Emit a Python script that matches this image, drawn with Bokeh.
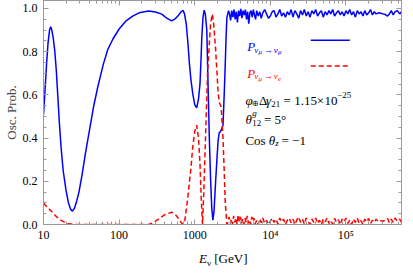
from bokeh.plotting import figure
from bokeh.models import FixedTicker, LinearAxis, LogAxis, Range1d, Label, Arrow, Div
from bokeh.layouts import column
from bokeh.embed import file_html
from bokeh.resources import INLINE

# ---------------- data ----------------
# P(nu_mu -> nu_mu): log10(E/GeV), probability
mumu_logE = [1.000, 1.020, 1.040, 1.060, 1.080, 1.095, 1.110, 1.130, 1.150, 1.170,
             1.190, 1.210, 1.232, 1.260, 1.297, 1.330, 1.360, 1.383, 1.410, 1.440,
             1.469, 1.510, 1.555, 1.610, 1.662, 1.720, 1.790, 1.850, 1.920, 2.000,
             2.093, 2.180, 2.264, 2.390, 2.480, 2.565, 2.630, 2.694, 2.740, 2.780,
             2.820, 2.845, 2.865, 2.888, 2.910, 2.930, 2.950, 2.974, 3.000, 3.026,
             3.050, 3.070, 3.085, 3.094, 3.110, 3.125, 3.140, 3.160, 3.180, 3.195,
             3.210, 3.225, 3.240, 3.255, 3.275, 3.295, 3.310, 3.325, 3.340, 3.355,
             3.374, 3.390, 3.404, 3.416, 3.426, 3.448,
             3.460, 3.475, 3.490, 3.505, 3.520, 3.535, 3.550, 3.565, 3.580, 3.595,
             3.610, 3.625, 3.640, 3.655, 3.670, 3.685, 3.700, 3.715, 3.730, 3.745,
             3.760, 3.775, 3.790, 3.805, 3.820, 3.840, 3.860, 3.880, 3.900, 3.925,
             3.950, 3.975, 4.000, 4.025, 4.050, 4.075, 4.100, 4.125, 4.150, 4.175,
             4.200, 4.225, 4.250, 4.275, 4.300, 4.325, 4.350, 4.375, 4.400, 4.425,
             4.450, 4.475, 4.500, 4.525, 4.550, 4.575, 4.600, 4.625, 4.650, 4.675,
             4.700, 4.725, 4.750, 4.775, 4.800, 4.825, 4.850, 4.875, 4.900, 4.925,
             4.950, 4.975, 5.000, 5.025, 5.050, 5.075, 5.100, 5.125, 5.150, 5.175,
             5.200, 5.225, 5.250, 5.275, 5.300, 5.325, 5.350, 5.375, 5.400, 5.430,
             5.460, 5.490, 5.520, 5.550, 5.575, 5.600, 5.625, 5.650, 5.680, 5.710,
             5.735]
mumu_P = [0.510, 0.620, 0.740, 0.840, 0.900, 0.916, 0.900, 0.860, 0.800, 0.710,
          0.590, 0.470, 0.360, 0.250, 0.160, 0.100, 0.070, 0.062, 0.075, 0.110,
          0.150, 0.230, 0.330, 0.440, 0.545, 0.640, 0.740, 0.810, 0.860, 0.905,
          0.943, 0.965, 0.980, 0.988, 0.984, 0.974, 0.955, 0.943, 0.952, 0.966,
          0.985, 0.992, 0.975, 0.928, 0.840, 0.744, 0.670, 0.606, 0.555, 0.540,
          0.580, 0.652, 0.780, 0.867, 0.960, 0.992, 0.975, 0.900, 0.590, 0.380,
          0.210, 0.080, 0.020, 0.060, 0.190, 0.310, 0.390, 0.425, 0.430, 0.440,
          0.460, 0.600, 0.744, 0.880, 0.959, 0.990,
          0.975, 0.945, 0.990, 0.960, 0.995, 0.950, 0.985, 0.935, 0.990, 0.965,
          0.998, 0.955, 0.990, 0.970, 0.995, 0.950, 0.985, 0.930, 0.980, 0.990,
          0.960, 0.995, 0.970, 0.950, 0.990, 0.965, 0.985, 0.955, 0.980, 0.995,
          0.975, 0.955, 0.965, 0.985, 0.990, 0.960, 0.975, 0.995, 0.965, 0.980,
          0.960, 0.985, 0.970, 0.995, 0.960, 0.990, 0.975, 0.955, 0.990, 0.970,
          0.995, 0.965, 0.985, 0.960, 0.990, 0.975, 0.995, 0.965, 0.980, 0.990,
          0.960, 0.985, 0.970, 0.990, 0.975, 0.995, 0.965, 0.980, 0.990, 0.970,
          0.985, 0.965, 0.990, 0.975, 0.995, 0.970, 0.985, 0.960, 0.990, 0.975,
          0.985, 0.965, 0.990, 0.970, 0.980, 0.995, 0.970, 0.985, 0.975, 0.980,
          0.978, 0.975, 0.972, 0.965, 0.975, 0.990, 0.970, 0.985, 0.990, 0.975,
          0.985]

# P(nu_mu -> nu_e): log10(E/GeV), probability
mue_logE = [1.000, 1.050, 1.103, 1.160, 1.210, 1.270, 1.320, 1.380, 1.450, 2.390,
            2.450, 2.520, 2.600, 2.694, 2.740, 2.780, 2.815, 2.845, 2.870, 2.910,
            2.950, 2.974, 3.000, 3.026, 3.050, 3.070, 3.085, 3.103, 3.120, 3.146,
            3.170, 3.190, 3.210, 3.232, 3.250, 3.275, 3.295, 3.310, 3.330, 3.350,
            3.374, 3.390, 3.404, 3.426,
            3.440, 3.455, 3.470, 3.485, 3.500, 3.515, 3.530, 3.545, 3.560, 3.575,
            3.590, 3.605, 3.620, 3.635, 3.650, 3.665, 3.680, 3.695, 3.710, 3.725,
            3.740, 3.755, 3.770, 3.785, 3.800, 3.820, 3.840, 3.860, 3.880, 3.900,
            3.925, 3.950, 3.975, 4.000, 4.025, 4.050, 4.075, 4.100, 4.125, 4.150,
            4.175, 4.200, 4.225, 4.250, 4.275, 4.300, 4.325, 4.350, 4.375, 4.400,
            4.425, 4.450, 4.475, 4.500, 4.525, 4.550, 4.575, 4.600, 4.625, 4.650,
            4.675, 4.700, 4.725, 4.750, 4.775, 4.800, 4.825, 4.850, 4.875, 4.900,
            4.925, 4.950, 4.975, 5.000, 5.025, 5.050, 5.075, 5.100, 5.125, 5.150,
            5.175, 5.200, 5.225, 5.250, 5.275, 5.300, 5.325, 5.350, 5.375, 5.400,
            5.430, 5.460, 5.490, 5.520, 5.550, 5.575, 5.600, 5.625, 5.650, 5.680,
            5.710, 5.735]
mue_P = [0.100, 0.080, 0.062, 0.040, 0.024, 0.012, 0.005, 0.001, 0.000, 0.000,
         0.008, 0.025, 0.045, 0.057, 0.048, 0.030, 0.012, 0.000, 0.020, 0.130,
         0.260, 0.360, 0.430, 0.460, 0.400, 0.280, 0.130, 0.000, 0.150, 0.440,
         0.700, 0.820, 0.930, 0.974, 0.930, 0.820, 0.700, 0.606, 0.560, 0.545,
         0.400, 0.250, 0.100, 0.000,
         0.010, 0.035, 0.005, 0.025, 0.002, 0.040, 0.010, 0.030, 0.000, 0.045,
         0.015, 0.035, 0.005, 0.025, 0.000, 0.030, 0.010, 0.040, 0.005, 0.020,
         0.000, 0.035, 0.015, 0.030, 0.002, 0.020, 0.000, 0.025, 0.008, 0.030,
         0.005, 0.020, 0.000, 0.015, 0.030, 0.010, 0.025, 0.002, 0.030, 0.012,
         0.025, 0.000, 0.020, 0.030, 0.008, 0.025, 0.000, 0.020, 0.035, 0.010,
         0.025, 0.002, 0.030, 0.015, 0.000, 0.025, 0.010, 0.030, 0.005, 0.020,
         0.000, 0.025, 0.012, 0.030, 0.005, 0.020, 0.000, 0.028, 0.010, 0.022,
         0.000, 0.025, 0.012, 0.030, 0.005, 0.020, 0.000, 0.025, 0.010, 0.030,
         0.005, 0.018, 0.000, 0.025, 0.012, 0.028, 0.004, 0.020, 0.010, 0.025,
         0.012, 0.018, 0.015, 0.020, 0.028, 0.008, 0.025, 0.010, 0.030, 0.015,
         0.025, 0.010]

x_ticks = [10, 100, 1000, 10**4, 10**5]
x_tick_labels = ["10", "100", "1000", "10\u2074", "10\u2075"]
y_ticks = [0.0, 0.2, 0.4, 0.6, 0.8, 1.0]
y_tick_labels = ["0.0", "0.2", "0.4", "0.6", "0.8", "1.0"]

E_lo, E_hi = 10.0, 10 ** 5.735
P_lo, P_hi = 0.0, 1.037

mumu_E = [10 ** v for v in mumu_logE]
mue_E = [10 ** v for v in mue_logE]

# ---------------- figure ----------------
FONT = "Liberation Serif"
GREY = "#9a9a9a"
W, H = 405, 244
ML, MR, MT, MB = 34, 4, 0, 18
DIV_H = 268 - H

p = figure(width=W, height=H, x_axis_type="log",
           x_range=Range1d(E_lo, E_hi), y_range=Range1d(P_lo, P_hi),
           output_backend="svg", toolbar_location=None,
           min_border_left=ML, min_border_right=MR,
           min_border_top=MT, min_border_bottom=MB)
p.grid.visible = False
p.outline_line_color = GREY
p.background_fill_color = "white"

x_minor = [k * 10 ** n for n in range(1, 6) for k in range(2, 10) if k * 10 ** n <= E_hi]
y_minor = [round(0.05 * i, 2) for i in range(0, 21)]
xt = FixedTicker(ticks=x_ticks, minor_ticks=x_minor)
yt = FixedTicker(ticks=y_ticks, minor_ticks=y_minor)


def style_axis(ax, labels=True, size="12px"):
    ax.axis_line_color = GREY
    ax.major_tick_line_color = GREY
    ax.minor_tick_line_color = GREY
    ax.major_tick_in = 5
    ax.major_tick_out = 0
    ax.minor_tick_in = 3
    ax.minor_tick_out = 0
    if labels:
        ax.major_label_text_font = FONT
        ax.major_label_text_font_size = size
        ax.major_label_text_color = "black"
    else:
        ax.major_label_text_font_size = "1px"
        ax.major_label_text_alpha = 0.0
        ax.major_label_standoff = 0


xa = p.xaxis[0]
xa.ticker = xt
style_axis(xa)
xa.major_label_overrides = {t: s for t, s in zip(x_ticks, x_tick_labels)}
xa.major_label_standoff = 3

ya = p.yaxis[0]
ya.ticker = yt
style_axis(ya)
ya.major_label_overrides = {t: s for t, s in zip(y_ticks, y_tick_labels)}
ya.major_label_standoff = 6
ya.axis_label = "Osc. Prob."
ya.axis_label_text_font = FONT
ya.axis_label_text_font_size = "13px"
ya.axis_label_text_font_style = "normal"
ya.axis_label_standoff = 1

top = LogAxis(ticker=xt)
style_axis(top, labels=False)
p.add_layout(top, "above")
right = LinearAxis(ticker=yt)
style_axis(right, labels=False)
p.add_layout(right, "right")

# curves
p.line(mumu_E, mumu_P, line_color="#0000ff", line_width=1.5)
p.line(mue_E, mue_P, line_color="#ff0000", line_width=1.5, line_dash="5 3")

# ---------------- annotations (placed by page pixel) ----------------
FX0, FX1 = 8 + ML, 8 + W - MR          # frame left/right on page
FY1 = 8 + H - MB                        # frame bottom on page
FH = H - MB - MT
DY = -12                                # vertical shift of the text block


def px_to_E(px):
    return 10 ** (1 + (px - FX0) / (FX1 - FX0) * (5.735 - 1))


def py_to_P(py):
    return (FY1 - (py + DY)) / FH * P_hi


def put(text, px, py, size=13, style="normal", color="black"):
    p.add_layout(Label(x=px_to_E(px), y=py_to_P(py), text=text,
                       text_font=FONT, text_font_size=f"{size}px",
                       text_font_style=style, text_color=color,
                       text_baseline="alphabetic", text_align="left"))


BLUE, RED = "#0000ff", "#ff0000"
# legend entry 1
put("P", 251, 66.5, 13, "italic", BLUE)
put("\u03bd", 258, 69.5, 9, "italic", BLUE)
put("\u03bc", 262.5, 72, 7, "italic", BLUE)
put("\u2192", 268, 69.5, 9, "normal", BLUE)
put("\u03bd", 278, 69.5, 9, "italic", BLUE)
put("\u03bc", 282.5, 72, 7, "italic", BLUE)
p.add_layout(Arrow(end=None, x_start=px_to_E(316), y_start=py_to_P(60),
                   x_end=px_to_E(356), y_end=py_to_P(60),
                   line_color=BLUE, line_width=1.5))

# legend entry 2
put("P", 251, 93.5, 13, "italic", RED)
put("\u03bd", 258, 96.5, 9, "italic", RED)
put("\u03bc", 262.5, 99, 7, "italic", RED)
put("\u2192", 268, 96.5, 9, "normal", RED)
put("\u03bd", 278, 96.5, 9, "italic", RED)
put("e", 282.5, 99, 7, "italic", RED)
p.add_layout(Arrow(end=None, x_start=px_to_E(316), y_start=py_to_P(86),
                   x_end=px_to_E(356), y_end=py_to_P(86),
                   line_color=RED, line_width=1.5, line_dash="5 3"))

# parameter text
put("\u03c6", 249, 121, 13, "italic")
put("\u2295", 256, 124, 8)
put("\u0394", 263, 121, 13)
put("\u03b3", 270, 121, 13, "italic")
put("21", 275.5, 124, 9)
put("=", 288, 121, 13)
put("1.15", 299, 121, 13)
put("\u00d7", 322, 121, 13)
put("10", 330, 121, 13)
put("\u221225", 343, 115, 9)

put("\u03b8", 249, 140, 13, "italic")
put("g", 256, 134, 9, "italic")
put("12", 256, 143.5, 9)
put("= 5\u00b0", 268, 140, 13)

put("Cos", 249, 161, 13)
put("\u03b8", 273, 161, 13, "italic")
put("z", 279.5, 164, 9, "italic")
put("= \u22121", 286, 161, 13)

# x-axis title (real HTML text beneath the plot)
xtitle = Div(text=("<div style=\"font-family:'Liberation Serif';font-size:13px;"
                   "line-height:13px;color:black;padding-left:199px;padding-top:8px;"
                   "white-space:nowrap\"><i>E</i><span style=\"font-size:9px;"
                   "position:relative;top:3px\">\u03bd</span> [GeV]</div>"),
             width=W, height=DIV_H, margin=(0, 0, 0, 0))

layout = column(p, xtitle, spacing=0)
open("out.html", "w").write(file_html(layout, INLINE))
